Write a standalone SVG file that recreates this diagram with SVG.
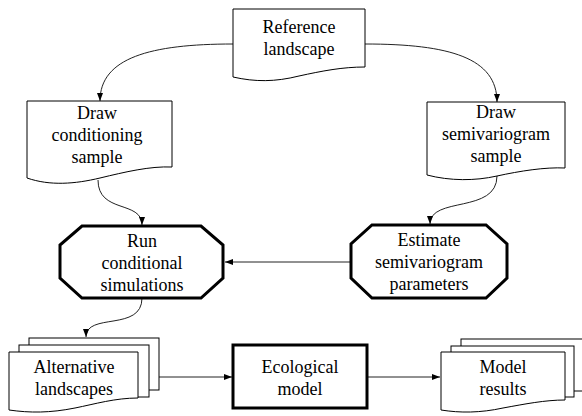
<svg xmlns="http://www.w3.org/2000/svg" width="582" height="416" viewBox="0 0 582 416">
<style>
.doc{fill:#fff;stroke:#000;stroke-width:1}
.thick{fill:#fff;stroke:#000;stroke-width:3}
.conn{fill:none;stroke:#222;stroke-width:1}
text{font-family:'Liberation Serif','Times New Roman',serif;font-size:18px;fill:#000;text-anchor:middle}
</style>
<defs>
<marker id="ah" markerWidth="8" markerHeight="6" refX="8" refY="3" orient="auto" markerUnits="userSpaceOnUse">
<path d="M0,0 L8,3 L0,6 Z" fill="#000"/>
</marker>
</defs>
<rect width="582" height="416" fill="#fff"/>
<g id="connectors">
<path class="conn" d="M233,44 C150,44 100,58 100,101" marker-end="url(#ah)"/>
<path class="conn" d="M365,44 C450,44 497,58 497,102" marker-end="url(#ah)"/>
<path class="conn" d="M98,180 C98,214 142,200 142,225" marker-end="url(#ah)"/>
<path class="conn" d="M497,176 C497,214 430,196 430,224" marker-end="url(#ah)"/>
<path class="conn" d="M142,298 C142,332 86,312 86,337" marker-end="url(#ah)"/>
<path class="conn" d="M351,262 L225,262" marker-end="url(#ah)"/>
<path class="conn" d="M159,377 L232,377" marker-end="url(#ah)"/>
<path class="conn" d="M367,377 L440,377" marker-end="url(#ah)"/>
</g>
<g id="reference-landscape">
<path class="doc" d="M233,9 H365 V67 C342,67 322,71 299,76 C275,82 255,82 233,77 Z"/>
<text x="299" y="33">Reference</text>
<text x="299" y="55">landscape</text>
</g>
<g id="draw-conditioning-sample">
<path class="doc" d="M27,101 H172 V167 C150,166 125,172 100,178 C75,184 50,186 27,178 Z"/>
<text x="97" y="119">Draw</text>
<text x="97" y="141">conditioning</text>
<text x="97" y="163">sample</text>
</g>
<g id="draw-semivariogram-sample">
<path class="doc" d="M427,102 H565 V168 C545,167 520,171 497,176 C475,181 450,181 427,175 Z"/>
<text x="496" y="118">Draw</text>
<text x="496" y="140">semivariogram</text>
<text x="496" y="162">sample</text>
</g>
<g id="run-conditional-simulations">
<path class="thick" d="M82,226 H201 L223,245 V278 L201,298 H82 L60,278 V245 Z"/>
<text x="142" y="247">Run</text>
<text x="142" y="269">conditional</text>
<text x="142" y="291">simulations</text>
</g>
<g id="estimate-semivariogram-parameters">
<path class="thick" d="M372,225 H486 L507,244 V278 L486,298 H372 L351,278 V244 Z"/>
<text x="429" y="246">Estimate</text>
<text x="429" y="268">semivariogram</text>
<text x="429" y="290">parameters</text>
</g>
<g id="alternative-landscapes">
<rect class="doc" x="29" y="338" width="130" height="52"/>
<rect class="doc" x="19" y="345" width="130" height="52"/>
<path class="doc" d="M9,352 H138 V398 C115,398 95,404 75,408 C50,413 30,413 9,410 Z"/>
<text x="74" y="373">Alternative</text>
<text x="74" y="395">landscapes</text>
</g>
<g id="ecological-model">
<rect class="thick" x="233" y="345" width="134" height="63"/>
<text x="300" y="373">Ecological</text>
<text x="300" y="395">model</text>
</g>
<g id="model-results">
<rect class="doc" x="461" y="339" width="130" height="52"/>
<rect class="doc" x="451" y="346" width="123" height="51"/>
<path class="doc" d="M441,352 H565 V400 C545,400 525,404 503,408 C480,413 460,413 441,410 Z"/>
<text x="503" y="373">Model</text>
<text x="503" y="395">results</text>
</g>
</svg>
